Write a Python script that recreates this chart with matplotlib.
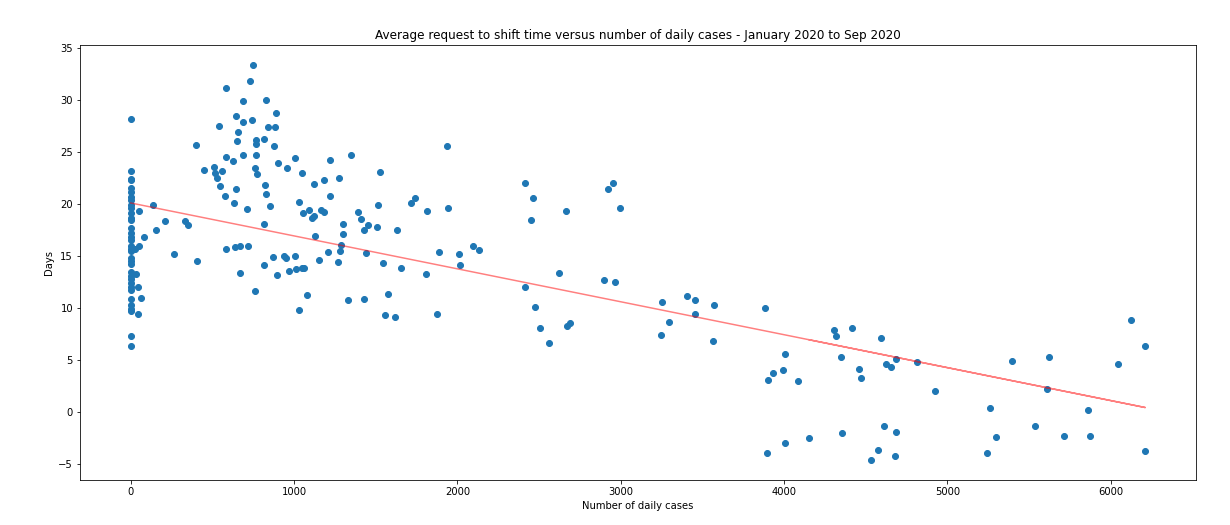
import numpy as np
from matplotlib import pyplot as plt

# daily cases at x = 0
zero_days = [28.2, 23.2, 22.45, 22.3, 21.55, 21.2, 20.7, 20.4, 19.9, 19.6, 19.1, 18.7,
             18.5, 17.7, 17.2, 16.8, 16.5, 16.0, 15.7, 15.5, 14.8, 14.5, 14.2, 13.5,
             13.1, 12.8, 12.35, 12.0, 11.7, 10.9, 10.3, 9.9, 9.7, 7.3, 6.35]

cases = [51, 137, 210, 155, 82, 51, 25, 31, 45, 63, 45,
         265, 333, 351, 400, 404, 449, 510, 516, 529, 541, 559, 547, 578, 584, 584, 584,
         627, 633, 645, 645, 657, 651, 688, 688, 688, 641, 670, 718, 712, 670, 731, 749,
         743, 761, 767, 767, 761, 773, 767, 816, 829, 843, 886, 890, 877, 822, 828, 853,
         816, 816, 871, 896, 902, 957, 1006, 939, 953, 969, 1012, 1049, 1061, 1006, 1031,
         1031, 1049, 1122, 1184, 1220, 1349, 1276, 1220, 1527, 1937, 1055, 1092, 1110,
         1120, 1165, 1184, 1392, 1410, 1453, 1429, 1514, 1508, 1631, 1717, 1741, 1815,
         1943, 1300, 1300, 1288, 1282, 1129, 1208, 1269, 1153, 1441, 1545, 1655, 1808,
         1888, 2010, 2016, 2096, 2133, 1080, 1331, 1429, 1576, 1557, 1619, 1876,
         2415, 2464, 2451, 2666, 2954, 2923, 2996, 2623, 2415, 2898, 2966, 2476, 2506,
         2561, 2672, 2690, 3254, 3407, 3456, 3572, 3456, 3296, 3247, 3566,
         3884, 4307, 4319, 4417, 4595, 4006, 4350, 4460, 4472, 4625, 4656, 4686, 4815,
         3933, 3995, 3903, 4086, 4925, 5397, 5623, 5611, 5262, 5862, 6125, 6211, 6046,
         4352, 4611, 4686, 4576, 4533, 4680, 5538, 5299, 5244, 5715, 5874, 6211, 3897,
         4006, 4153]

days = [19.35, 19.95, 18.4, 17.5, 16.8, 16.0, 15.7, 13.3, 12.0, 11.0, 9.4,
        15.2, 18.4, 18.0, 25.7, 14.5, 23.3, 23.6, 22.95, 22.5, 27.55, 23.2, 21.7, 20.8, 24.5, 15.7, 31.2,
        24.1, 20.1, 21.4, 28.5, 26.9, 26.1, 27.9, 29.9, 24.7, 15.9, 16.0, 16.0, 19.5, 13.4, 31.8, 33.4,
        28.1, 11.6, 26.2, 25.8, 23.5, 22.9, 24.7, 26.3, 30.0, 27.4, 27.4, 28.8, 25.6, 21.8, 21.0, 19.8,
        18.1, 14.1, 14.9, 13.2, 23.9, 23.5, 24.4, 15.0, 14.8, 13.6, 13.7, 13.8, 13.8, 15.0, 9.8,
        20.2, 22.95, 21.96, 22.3, 24.2, 24.75, 22.5, 20.8, 23.1, 25.6, 19.1, 19.45, 18.7,
        18.8, 19.4, 19.2, 19.2, 18.6, 18.0, 17.5, 19.9, 17.8, 17.5, 20.1, 20.6, 19.35,
        19.6, 18.1, 17.1, 16.1, 15.5, 16.9, 15.4, 14.4, 14.6, 15.3, 14.3, 13.85, 13.3,
        15.4, 15.2, 14.1, 16.0, 15.6, 11.25, 10.8, 10.9, 11.35, 9.3, 9.1, 9.4,
        22.05, 20.6, 18.5, 19.3, 22.05, 21.4, 19.6, 13.4, 12.0, 12.7, 12.5, 10.1, 8.1,
        6.6, 8.26, 8.55, 10.6, 11.15, 10.8, 10.3, 9.4, 8.65, 7.4, 6.8,
        10.0, 7.9, 7.3, 8.07, 7.1, 5.56, 5.27, 4.1, 3.25, 4.6, 4.3, 5.08, 4.8,
        3.7, 4.0, 3.05, 2.96, 2.0, 4.9, 5.27, 2.19, 0.36, 0.16, 8.84, 6.34, 4.6,
        -2.06, -1.38, -1.96, -3.7, -4.66, -4.27, -1.38, -2.44, -3.98, -2.34, -2.34, -3.79, -3.95,
        -3.0, -2.5]

# trend line as shown in the chart
fit_slope = -0.00317
fit_intercept = 20.1

x = np.array([0] * len(zero_days) + cases, dtype=float)
y = np.array(zero_days + days)

fig = plt.figure(figsize=(1230 / 72, 525 / 72), dpi=72)
ax = fig.add_axes([80 / 1230, 45 / 525, 1116 / 1230, 435 / 525])
ax.scatter(x, y)
ax.plot(x, fit_slope * x + fit_intercept, color='red', alpha=0.5)
ax.set_title("Average request to shift time versus number of daily cases - January 2020 to Sep 2020")
ax.set_xlabel("Number of daily cases")
ax.set_ylabel("Days")
fig.savefig("out.png", dpi=72)
